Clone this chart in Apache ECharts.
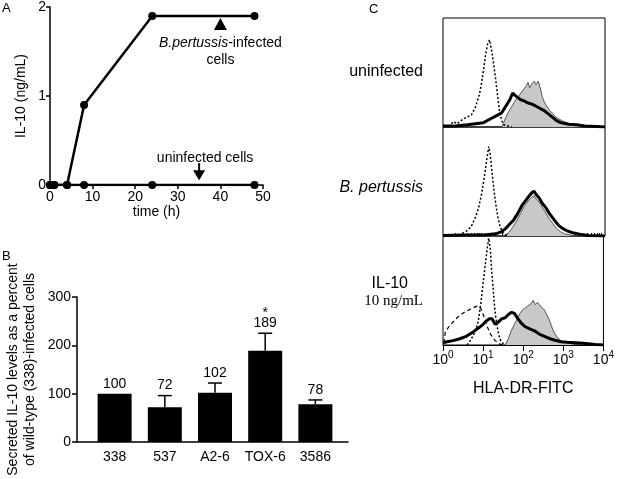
<!DOCTYPE html>
<html>
<head>
<meta charset="utf-8">
<script src="https://cdn.jsdelivr.net/npm/echarts@6/dist/echarts.min.js"></script>
<style>
  html, body { margin: 0; padding: 0; background: #fff; }
  #chart { width: 617px; height: 479px; }
</style>
</head>
<body>
<div id="chart"></div>
<script>
// ---- panel A: IL-10 over time ----
const hours = [0, 1, 4, 8, 24, 48];
const infectedIL10 = [0, 0, 0, 0.9, 1.9, 1.9];
const uninfectedIL10 = [0, 0, 0, 0, 0, 0];

// ---- panel B: IL-10 by strain, % of wild type ----
const strains = ['338', '537', 'A2-6', 'TOX-6', '3586'];
const percentIL10 = [100, 72, 102, 189, 78];
const errorTop = [100, 96, 122, 225, 87];
const significance = ['', '', '', '*', ''];

// ---- panel C: HLA-DR histograms, x = log10(fluorescence), y = % of panel height ----
const panelNames = ['uninfected', 'B. pertussis', 'IL-10'];

const isoUninf = [[0.15,0],[0.25,5],[0.35,3],[0.45,6],[0.58,9],[0.7,11],[0.8,18],[0.9,30],[0.95,40],[1.0,52],[1.05,66],[1.1,76],[1.15,80],[1.2,70],[1.25,58],[1.3,44],[1.35,28],[1.4,13],[1.45,6],[1.5,2],[1.6,1],[1.7,0]];
const grayUninf = [[1.45,0],[1.5,4],[1.55,9],[1.62,14],[1.7,19],[1.78,24],[1.86,28],[1.94,32],[2.0,35],[2.06,38],[2.1,41],[2.14,36],[2.2,40],[2.25,42],[2.3,39],[2.35,42],[2.4,36],[2.45,28],[2.5,23],[2.56,19],[2.64,15],[2.72,12],[2.82,8],[2.93,6],[3.05,4],[3.2,2.5],[3.4,1.5],[3.6,0.5],[3.8,0]];
const blackUninf = [[0,1],[0.3,1],[0.6,2],[0.8,3],[1.0,4],[1.2,8],[1.3,10],[1.45,13],[1.55,19],[1.65,25],[1.72,31],[1.78,29],[1.85,27],[1.92,25],[2.0,24],[2.1,22],[2.2,21],[2.3,19],[2.4,17],[2.5,15],[2.6,12],[2.7,9],[2.8,6],[2.9,4],[3.1,2.5],[3.3,2],[3.5,1],[3.8,0.5],[4,0]];

const isoBp = [[0.4,0],[0.5,3],[0.6,5],[0.7,9],[0.8,17],[0.88,26],[0.95,38],[1.02,54],[1.08,70],[1.13,82],[1.17,74],[1.2,62],[1.25,45],[1.3,30],[1.35,18],[1.4,10],[1.45,5],[1.5,2],[1.6,0]];
const grayBp = [[1.55,0],[1.62,3],[1.72,8],[1.82,14],[1.92,21],[2.02,28],[2.12,33],[2.2,36],[2.25,37],[2.3,34],[2.38,31],[2.46,26],[2.54,21],[2.62,16],[2.7,12],[2.8,7],[2.9,4],[3.0,2],[3.2,0.5],[3.4,0]];
const blackBp = [[0,0.5],[0.5,1],[1.0,1],[1.3,2],[1.45,4],[1.55,7],[1.65,11],[1.75,15],[1.85,21],[1.95,28],[2.05,33],[2.13,37],[2.2,40],[2.25,41],[2.3,38],[2.37,35],[2.45,30],[2.54,26],[2.62,21],[2.7,17],[2.78,13],[2.86,9.5],[2.95,7],[3.05,5],[3.2,3],[3.4,1.5],[3.6,0.5],[4,0]];

const isoIL10 = [[0.6,0],[0.7,5],[0.8,12],[0.88,22],[0.95,40],[1.0,57],[1.05,72],[1.1,88],[1.14,98],[1.18,88],[1.21,70],[1.25,52],[1.28,38],[1.31,27],[1.35,17],[1.4,8],[1.45,3],[1.55,0]];
const dashIL10 = [[0.02,2],[0.06,12],[0.15,17],[0.25,21],[0.35,25],[0.45,28],[0.57,31],[0.7,33],[0.8,35],[0.88,36],[0.95,33],[1.02,26],[1.1,17],[1.2,9],[1.3,4],[1.4,1],[1.5,0]];
const grayIL10 = [[1.55,0],[1.62,5],[1.7,13],[1.78,19],[1.85,24],[1.92,29],[1.98,32],[2.05,34],[2.12,36],[2.2,38],[2.25,41],[2.3,37],[2.36,39],[2.42,36],[2.48,34],[2.53,32],[2.6,27],[2.66,22],[2.72,16],[2.78,11],[2.85,7],[2.92,4.5],[3.02,2.5],[3.15,1.5],[3.3,0.5],[3.5,0]];
const blackIL10 = [[0,2],[0.1,3],[0.25,4],[0.4,5.5],[0.58,8],[0.75,12],[0.9,16],[1.0,19],[1.08,22],[1.15,24],[1.22,24],[1.3,19],[1.38,21],[1.46,24],[1.55,25],[1.63,28],[1.71,30],[1.78,29],[1.87,24],[1.95,20],[2.04,17],[2.15,15],[2.28,13],[2.4,10],[2.53,8],[2.65,6],[2.77,4.6],[2.95,3],[3.1,2.5],[3.3,2],[3.5,1.5],[3.8,0.5],[4,0]];

const histograms = [
  { iso: isoUninf, gray: grayUninf, black: blackUninf, dash: null },
  { iso: isoBp, gray: grayBp, black: blackBp, dash: null },
  { iso: isoIL10, gray: grayIL10, black: blackIL10, dash: dashIL10 }
];

// minor ticks 2..9 in each decade
const minorTicks = [];
for (let d = 0; d < 4; d++) {
  for (let k = 2; k <= 9; k++) minorTicks.push(d + Math.log10(k));
}

const FONT = 'Liberation Sans, Arial, sans-serif';
const black = '#000';

const chart = echarts.init(document.getElementById('chart'));

const histTops = [18, 127, 236];

const grids = [
  { left: 50, top: 4, width: 213, height: 181 },
  { left: 77, top: 297, width: 271, height: 145 }
];
histTops.forEach(t => grids.push({
  left: 443, top: t, width: 162, height: 109,
  show: true, borderColor: black, borderWidth: 1, backgroundColor: 'transparent'
}));

const xAxes = [
  {
    gridIndex: 0, type: 'value', min: 0, max: 50, interval: 10,
    axisLine: { lineStyle: { color: black, width: 1.5 } },
    axisTick: { length: 4, lineStyle: { color: black, width: 1.5 } },
    axisLabel: { color: black, fontSize: 14, margin: 5 },
    splitLine: { show: false },
    name: 'time (h)', nameLocation: 'middle', nameGap: 20,
    nameTextStyle: { color: black, fontSize: 14 }
  },
  {
    gridIndex: 1, type: 'value', min: 0.25, max: 5.65,
    axisLine: { lineStyle: { color: black, width: 1.5 } },
    axisTick: { show: false },
    axisLabel: {
      color: black, fontSize: 14, margin: 8,
      customValues: [1, 2, 3, 4, 5],
      formatter: v => strains[Math.round(v) - 1]
    },
    splitLine: { show: false }
  }
];
histTops.forEach((t, i) => {
  const last = i === histTops.length - 1;
  xAxes.push({
    gridIndex: 2 + i, type: 'value', min: 0, max: 4, interval: 1,
    show: last,
    axisLine: { lineStyle: { color: black, width: 1 } },
    axisTick: { length: 6, lineStyle: { color: black, width: 1 } },
    axisLabel: {
      margin: 5,
      formatter: v => '{b|10}{s|' + v + '}',
      rich: {
        b: { fontSize: 14, color: black, lineHeight: 17, verticalAlign: 'bottom', fontFamily: FONT },
        s: { fontSize: 10, color: black, lineHeight: 10, verticalAlign: 'top', fontFamily: FONT }
      }
    },
    splitLine: { show: false },
    name: last ? 'HLA-DR-FITC' : '', nameLocation: 'middle', nameGap: 36,
    nameTextStyle: { color: black, fontSize: 16 }
  });
});
// minor ticks for the log axis
xAxes.push({
  gridIndex: 4, type: 'value', min: 0, max: 4,
  axisLine: { show: false },
  axisLabel: { show: false },
  axisTick: { customValues: minorTicks, length: 3, lineStyle: { color: black, width: 1 } },
  splitLine: { show: false }
});

const yAxes = [
  {
    gridIndex: 0, type: 'value', min: 0, max: 2, interval: 1,
    axisLine: { show: true, lineStyle: { color: black, width: 1.5 } },
    axisTick: { show: true, length: 4, lineStyle: { color: black, width: 1.5 } },
    axisLabel: { color: black, fontSize: 14, margin: 4 },
    splitLine: { show: false },
    name: 'IL-10 (ng/mL)', nameLocation: 'middle', nameGap: 22,
    nameTextStyle: { color: black, fontSize: 14 }
  },
  {
    gridIndex: 1, type: 'value', min: 0, max: 300, interval: 100,
    axisLine: { show: true, lineStyle: { color: black, width: 1.5 } },
    axisTick: { show: true, length: 5, lineStyle: { color: black, width: 1.5 } },
    axisLabel: { color: black, fontSize: 14, margin: 6 },
    splitLine: { show: false },
    name: 'Secreted IL-10 levels as a percent\nof wild-type (338)-infected cells',
    nameLocation: 'middle', nameGap: 38,
    nameTextStyle: { color: black, fontSize: 14, lineHeight: 17 }
  }
];
histTops.forEach((t, i) => yAxes.push({
  gridIndex: 2 + i, type: 'value', min: 0, max: 100, show: false, splitLine: { show: false }
}));

const series = [
  {
    type: 'line', xAxisIndex: 0, yAxisIndex: 0,
    data: hours.map((h, i) => [h, uninfectedIL10[i]]),
    symbol: 'circle', symbolSize: 8, itemStyle: { color: black },
    lineStyle: { color: black, width: 2.5 },
    markPoint: {
      symbol: 'path://M5,0 L7,0 L7,7 L12,7 L6,17 L0,7 L5,7 Z',
      symbolSize: [12, 17],
      itemStyle: { color: black },
      label: {
        show: true, position: 'top', distance: -2, offset: [6, 0],
        color: black, fontSize: 14, formatter: 'uninfected cells'
      },
      data: [{ coord: [35, 0.15] }]
    }
  },
  {
    type: 'line', xAxisIndex: 0, yAxisIndex: 0,
    data: hours.map((h, i) => [h, infectedIL10[i]]),
    symbol: 'circle', symbolSize: 8, itemStyle: { color: black },
    lineStyle: { color: black, width: 2.5 },
    markPoint: {
      symbol: 'triangle',
      symbolSize: [13, 12],
      itemStyle: { color: black },
      label: {
        show: true, position: 'bottom', distance: 5,
        color: black, fontSize: 14, lineHeight: 17, align: 'center',
        formatter: '{i|B.pertussis}-infected\ncells',
        rich: { i: { fontStyle: 'italic', fontSize: 14, color: black, fontFamily: FONT } }
      },
      data: [{ coord: [40, 1.81] }]
    }
  },
  {
    type: 'bar', xAxisIndex: 1, yAxisIndex: 1,
    data: strains.map((s, i) => [i + 1, percentIL10[i]]),
    barWidth: 34, itemStyle: { color: black }
  },
  {
    type: 'custom', xAxisIndex: 1, yAxisIndex: 1, z: 5,
    data: strains.map((s, i) => [i + 1, percentIL10[i], errorTop[i]]),
    renderItem: (params, api) => {
      const x = api.value(0), m = api.value(1), e = api.value(2);
      const base = api.coord([x, m]);
      const top = api.coord([x, e]);
      const kids = [];
      if (e > m) {
        kids.push({ type: 'line', shape: { x1: base[0], y1: base[1], x2: top[0], y2: top[1] },
          style: { stroke: black, lineWidth: 1.5 } });
        kids.push({ type: 'line', shape: { x1: top[0] - 7, y1: top[1], x2: top[0] + 7, y2: top[1] },
          style: { stroke: black, lineWidth: 1.5 } });
      }
      kids.push({ type: 'text', x: top[0], y: top[1] - 10,
        style: { text: String(m), fill: black, font: '14px ' + FONT, align: 'center', verticalAlign: 'middle' } });
      const star = significance[params.dataIndex];
      if (star) {
        kids.push({ type: 'text', x: top[0], y: top[1] - 20,
          style: { text: star, fill: black, font: '14px ' + FONT, align: 'center', verticalAlign: 'middle' } });
      }
      return { type: 'group', children: kids };
    }
  }
];

histograms.forEach((h, i) => {
  const ax = 2 + i;
  series.push({
    type: 'line', xAxisIndex: ax, yAxisIndex: ax, data: h.gray, showSymbol: false,
    lineStyle: { color: '#333', width: 0.8 }, areaStyle: { color: '#c8c8c8', opacity: 1 }
  });
  series.push({
    type: 'line', xAxisIndex: ax, yAxisIndex: ax, data: h.black, showSymbol: false,
    lineStyle: { color: black, width: 3 }
  });
  series.push({
    type: 'line', xAxisIndex: ax, yAxisIndex: ax, data: h.iso, showSymbol: false,
    lineStyle: { color: black, width: 1.5, type: [2, 2] }
  });
  if (h.dash) {
    series.push({
      type: 'line', xAxisIndex: ax, yAxisIndex: ax, data: h.dash, showSymbol: false,
      lineStyle: { color: black, width: 1.2, type: [4, 3] }
    });
  }
});

const label = (text, pos, extra) => Object.assign({
  text: text, padding: 0,
  textStyle: Object.assign({ color: black, fontWeight: 'normal', fontSize: 16, fontFamily: FONT }, extra || {})
}, pos);

const titles = [
  label('A', { left: 2, top: 2 }, { fontSize: 13 }),
  label('B', { left: 2, top: 250 }, { fontSize: 13 }),
  label('C', { left: 369, top: 3 }, { fontSize: 13 }),
  label(panelNames[0], { right: 194, top: 64 }),
  label(panelNames[1], { right: 194, top: 180 }, { fontStyle: 'italic' }),
  label(panelNames[2], { right: 209, top: 276 }),
  label('10 ng/mL', { right: 194, top: 294 }, { fontFamily: 'Liberation Serif, Times New Roman, serif', fontSize: 15 })
];

chart.setOption({
  animation: false,
  textStyle: { fontFamily: FONT },
  title: titles,
  grid: grids,
  xAxis: xAxes,
  yAxis: yAxes,
  series: series
});
</script>
</body>
</html>
